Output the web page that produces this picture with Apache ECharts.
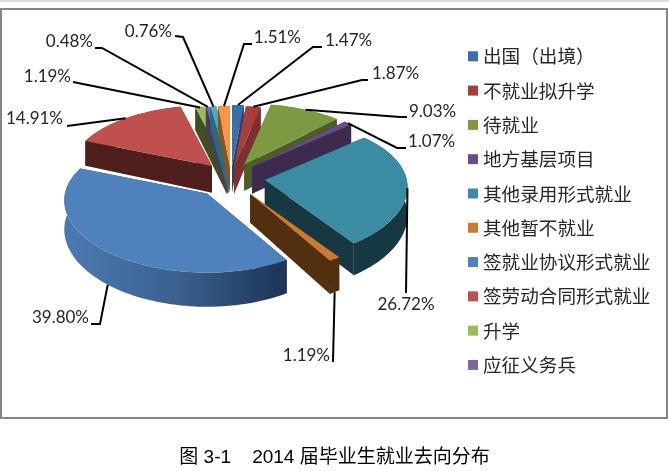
<!DOCTYPE html>
<html><head><meta charset="utf-8">
<style>html,body{margin:0;padding:0;background:#fff}#c{width:669px;height:471px}</style>
<script src="https://cdn.jsdelivr.net/npm/echarts@6/dist/echarts.min.js"></script>
</head><body><div id="c"></div>
<script>
// Data, clockwise from twelve o'clock
const categories = ['出国（出境）','不就业拟升学','待就业','地方基层项目','其他录用形式就业','其他暂不就业','签就业协议形式就业','签劳动合同形式就业','升学','应征义务兵','其他','未就业'];
const shares = [1.47,1.87,9.03,1.07,26.72,1.19,39.80,14.91,1.19,0.48,0.76,1.51];
const legendItems = categories.slice(0,10);
const captionText = '图 3-1\u00a0\u00a0\u00a0\u00a02014 届毕业生就业去向分布';

// Styling and layout
const topColors = ['#3b6ea5','#a33f3c','#7b9a41','#694d8a','#3b8ba3','#c97a33','#4f81bd','#c0504d','#9bbb59','#8064a2','#4bacc6','#f79646'];
const cutColors = ['#24436b','#7f2f2d','#4a5e26','#3d2b4f','#163843','#52300f','#1c3555','#4f1f1d','#3f4f22','#4a3a60','#2a6a7c','#8a5420'];
const explode = [22,20,28,29,34,35,37,29,20,20,20,20];
const paintOrder = [8,9,10,11,0,1,2,3,7,4,5,6];
const labelRoutes = [ // elbow, line end, text anchor, text align
  {p:[[313,47],[322,47]],t:[325,41],a:'left'},
  {p:[[362,80],[368,80]],t:[372,74],a:'left'},
  {p:[[400,117],[407,117]],t:[409,112],a:'left'},
  {p:[[397,148],[406,148]],t:[408,142],a:'left'},
  {p:[[406,293]],t:[406,305],a:'center'},
  {p:[[333,362]],t:[330,356],a:'right',wall:1},
  {p:[[100,324],[91,324]],t:[89,318],a:'right',wall:1},
  {p:[[67,126]],t:[63,119],a:'right'},
  {p:[[73,82]],t:[71,77],a:'right'},
  {p:[[102,48],[95,48]],t:[93,42],a:'right'},
  {p:[[183,37],[175,36]],t:[172,32],a:'right'},
  {p:[[244,44],[252,44]],t:[301,38],a:'right'}
];
const C=[231,178], A=142, B=70, PX=0.1, PY=0.13, DEPTH=27, DK=0.07, EY=0.55;

const total = shares.reduce((a,b)=>a+b,0);
const starts=[]; shares.reduce((acc,v,i)=>{starts[i]=acc; return acc+v;},0);
const ang = v=>v/total*Math.PI*2;
function apex(i){const m=ang(starts[i]+shares[i]/2);return [C[0]+explode[i]*Math.sin(m),C[1]-explode[i]*EY*Math.cos(m)];}
function rim(i,t){const a=apex(i),c=Math.cos(t),s=Math.sin(t);return [a[0]+s*A*(1-PX*c),a[1]-c*B*(1-PY*c)];}
const drop=p=>[p[0],p[1]+DEPTH+DK*(p[1]-170)];
function rimPts(i){const t0=ang(starts[i]),t1=ang(starts[i]+shares[i]),n=Math.max(2,Math.ceil((t1-t0)/0.03)),out=[];for(let k=0;k<=n;k++)out.push(rim(i,t0+(t1-t0)*k/n));return out;}
const poly=(points,fill)=>({type:'polygon',silent:true,shape:{points},style:{fill,stroke:null}});

function renderSlice(i){
  const a=apex(i),r=rimPts(i),f=r[0],l=r[r.length-1],kids=[];
  kids.push(poly([a,f,drop(f),drop(a)],cutColors[i]));
  kids.push(poly([a,l,drop(l),drop(a)],cutColors[i]));
  let wall=cutColors[i];
  if(i===6) wall={type:'linear',x:63,y:0,x2:290,y2:0,global:true,colorStops:[{offset:0,color:'#4d7ab3'},{offset:0.5,color:'#3a618f'},{offset:1,color:'#1a3353'}]};
  kids.push(poly(r.concat(r.slice().reverse().map(drop)),wall));
  kids.push(poly([a].concat(r),topColors[i]));
  return {type:'group',children:kids};
}
function renderLabel(params){
  const i=params.dataIndex,rt=labelRoutes[i];
  let s=rim(i,ang(starts[i]+shares[i]/2));
  if(rt.wall) s=drop(s);
  return {type:'group',children:[
    {type:'polyline',silent:true,shape:{points:[s].concat(rt.p)},style:{stroke:'#000',lineWidth:2,fill:null}},
    {type:'text',silent:true,x:rt.t[0],y:rt.t[1],style:{text:shares[i].toFixed(2)+'%',font:'17px Lato, "Open Sans", sans-serif',fill:'#262626',align:rt.a,verticalAlign:'middle'}}
  ]};
}
const series=paintOrder.map(i=>({type:'custom',name:categories[i],coordinateSystem:'none',silent:true,animation:false,
  itemStyle:{color:topColors[i]},data:[shares[i]],renderItem:()=>renderSlice(i)}));
series.push({type:'custom',name:'labels',coordinateSystem:'none',silent:true,animation:false,z:5,data:shares,renderItem:renderLabel});

echarts.init(document.getElementById('c')).setOption({
  animation:false,backgroundColor:'#fff',
  title:{text:captionText,left:'center',top:443,textStyle:{fontSize:19,fontWeight:'normal',color:'#000',fontFamily:'"Liberation Sans","Noto Sans CJK SC",sans-serif'}},
  legend:{data:legendItems,orient:'vertical',left:468,top:47,padding:0,itemWidth:10,itemHeight:10,itemGap:15.7,icon:'rect',selectedMode:false,
    textStyle:{fontSize:18.6,height:20,color:'#262626',fontFamily:'"Noto Sans CJK SC",sans-serif'}},
  graphic:[
    {type:'line',silent:true,shape:{x1:0,y1:1,x2:669,y2:1},style:{stroke:'#d9d9d9',lineWidth:2}},
    {type:'rect',silent:true,shape:{x:1,y:9,width:666,height:409},style:{fill:null,stroke:'#868686',lineWidth:2}}
  ],
  series
});
</script></body></html>
